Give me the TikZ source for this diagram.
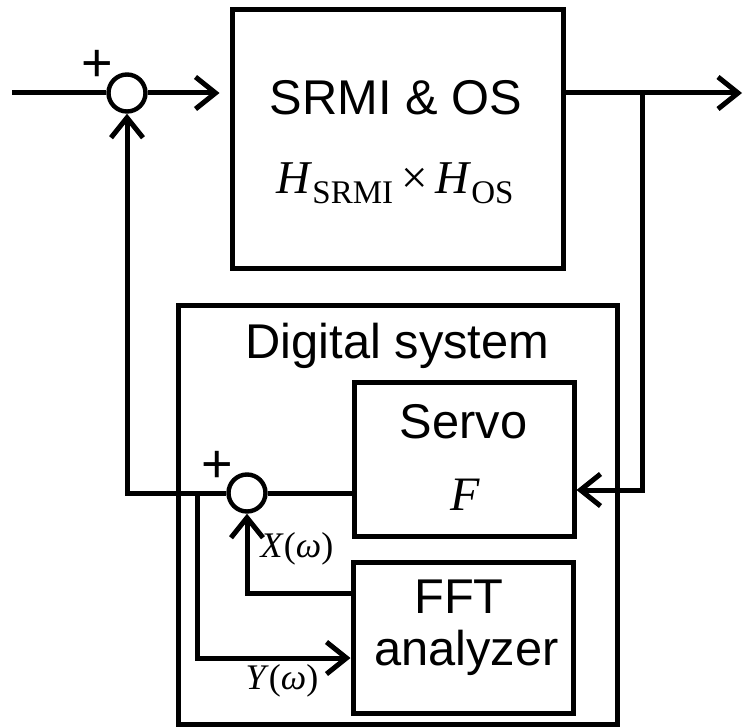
\documentclass[tikz,border=0pt]{standalone}
\usepackage{fontspec}
\setmainfont{Liberation Sans}
\newfontfamily\tnr{Liberation Serif}
\usetikzlibrary{arrows.meta}

\newcommand{\hsub}[1]{\raisebox{-5.5pt}{\fontsize{16.5}{18}\selectfont #1}}

\begin{document}
\begin{tikzpicture}[x=0.5pt,y=-0.5pt,line width=2.5pt,
	>={Straight Barb[length=10pt,width=16pt]},
	blk/.style={draw,rectangle,inner sep=0pt,line width=2.5pt},
	sum/.style={draw,circle,minimum size=18.5pt,inner sep=0pt,line width=2.2pt},
	txt/.style={anchor=base,inner sep=0pt,font=\fontsize{24.4}{29}\selectfont},
	var/.style={anchor=base,inner sep=0pt,font=\tnr\fontsize{18}{20}\selectfont},
	sgn/.style={inner sep=0pt,font=\fontsize{27}{28}\selectfont}]
		\useasboundingbox (0,0) rectangle (743,727);
		% blocks
		\node[blk,minimum width=165.5pt,minimum height=129pt] (srmi) at (397.5,139) {};
		\node[blk,minimum width=219.5pt,minimum height=209.5pt] (dig) at (397.5,514.5) {};
		\node[blk,minimum width=110pt,minimum height=77pt] (servo) at (464,459) {};
		\node[blk,minimum width=110pt,minimum height=75.5pt] (fft) at (463,637.5) {};
		\node[sum] (s1) at (127,93) {};
		\node[sum] (s2) at (247,493) {};
		%
		\node[txt] (srmilbl) at (396,115) {SRMI \& OS};
		\node[anchor=base,inner sep=0pt,font=\tnr\fontsize{23.5}{27}\selectfont] (hlbl) at (395,193)
			{\textit{H}\hsub{SRMI}\,×\,\textit{H}\hsub{OS}};
		\node[txt] (diglbl) at (397.5,358) {Digital system};
		\node[txt] (servolbl) at (463.5,438) {Servo};
		\node[anchor=base,inner sep=0pt,font=\tnr\itshape\fontsize{24}{28}\selectfont] (flbl) at (465,510) {F};
		\node[txt] (fftlbl) at (459,613) {FFT};
		\node[txt] (analbl) at (466.5,665) {analyzer};
		\node[var] (xlbl) at (297,557) {\textit{X}(\textit{ω})};
		\node[var] (ylbl) at (282,689) {\textit{Y}(\textit{ω})};
		\node[sgn] (p1) at (97,66) {+};
		\node[sgn] (p2) at (217,467) {+};
		%
		\coordinate (in) at (12,93);
		\coordinate (out) at (742,93);
		\coordinate (tap) at (642,93);
		\coordinate (tapd) at (642,490);
		\coordinate (fbl) at (127,493);
		\coordinate (ytap) at (197,493);
		\coordinate (yc) at (197,658);
		\coordinate (xc) at (247,593);
		% forward path
		\draw (in) -- (s1.west);
		\draw[->,shorten >=5pt] (s1.east) -- (s1.east -| srmi.west);
		\draw[->] (tap -| srmi.east) -- (out);
		% feedback paths
		\draw[->] (tap) -- (tapd) -- (tapd -| servo.east);
		\draw (s2.east -| servo.west) -- (s2.east);
		\draw[->] (s2.west) -- (fbl) -- (s1.south);
		\draw[->] (ytap) -- (yc) -- (yc -| fft.west);
		\draw[->] (xc -| fft.west) -- (xc) -- (s2.south);
\end{tikzpicture}
\end{document}
